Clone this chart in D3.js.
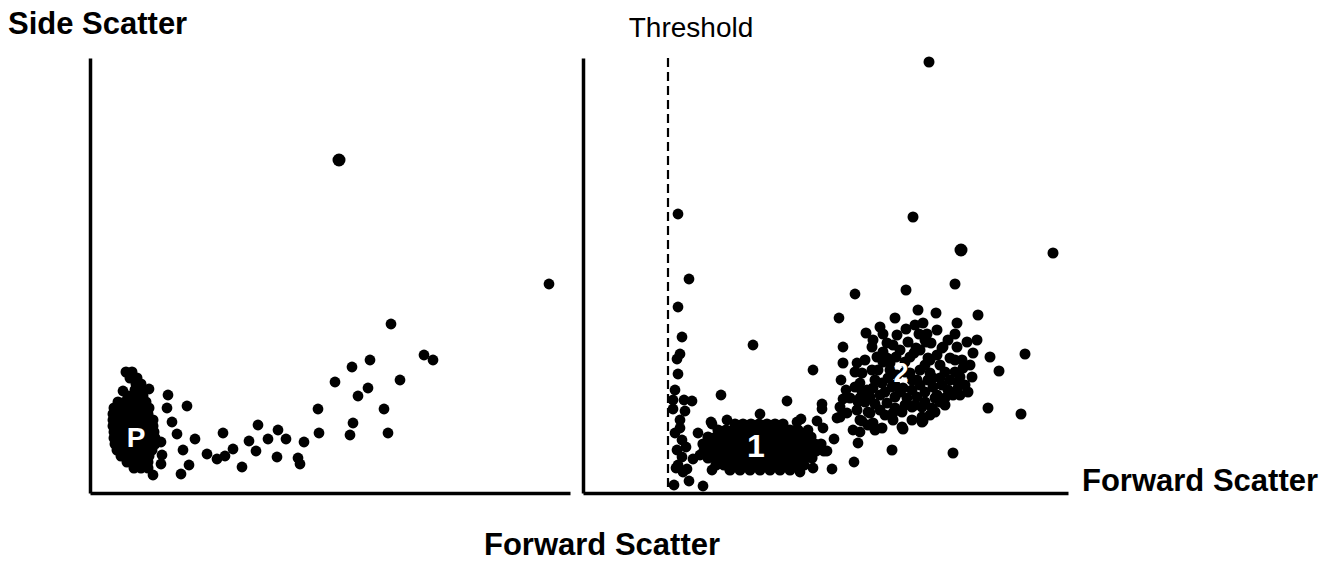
<!DOCTYPE html>
<html>
<head>
<meta charset="utf-8">
<script src="https://cdn.jsdelivr.net/npm/d3@7"></script>
<style>
  body { margin: 0; background: #fff; }
  svg { display: block; font-family: "Liberation Sans", Arial, sans-serif; }
</style>
</head>
<body>
<svg id="chart" width="1341" height="563"></svg>
<script>
// left panel: all events, [forward scatter, side scatter]
const leftBlobRows = [
  [121, [36, 42]], [115, [40, 47]], [109, [46, 51]], [103, [45, 52]],
  [97, [38, 46, 53]], [91, [28, 35, 42, 49, 56]], [85, [24, 31, 38, 45, 52, 59]],
  [79, [23, 30, 37, 44, 51, 58]], [73, [23, 30, 37, 44, 51, 58, 63]],
  [67, [23, 30, 37, 44, 51, 58, 63]], [61, [24, 31, 38, 45, 52, 59, 64]],
  [55, [24, 31, 38, 45, 52, 59, 65]], [49, [25, 32, 39, 46, 53, 60, 65]],
  [43, [27, 34, 41, 48, 55, 62]], [37, [31, 38, 45, 52, 59]],
  [31, [37, 44, 51, 58]], [25, [44, 51, 58]]
];
const leftScatter = [
  [33, 102], [59, 104], [63, 18], [71, 29], [72, 38], [71, 51], [78, 98], [77, 85],
  [82, 71], [87, 59], [97, 87], [93, 43], [99, 28], [91, 19], [105, 54], [117, 39],
  [127, 34], [135, 37], [133, 60], [143, 44], [152, 26], [159, 52], [166, 42],
  [168, 68], [178, 54], [188, 63], [187, 36], [196, 54], [208, 35], [210, 29],
  [214, 51], [229, 60], [228, 84], [245, 111], [260, 58], [263, 70], [268, 97],
  [278, 105], [262, 126], [280, 133], [294, 84], [298, 60], [310, 113], [301, 169],
  [334, 138], [343, 133], [459, 209]
];
const leftLarge = [[249, 333]];

// right panel: events after threshold
const pop1Rows = [
  [69, [152, 160, 168, 176, 184, 192, 200]],
  [63, [135, 143, 151, 159, 167, 175, 183, 191, 199, 207, 215]],
  [56, [125, 133, 141, 149, 157, 165, 173, 181, 189, 197, 205, 213, 221, 228]],
  [49, [120, 128, 136, 144, 152, 160, 168, 176, 184, 192, 200, 208, 216, 224, 232, 238]],
  [42, [121, 129, 137, 145, 153, 161, 169, 177, 185, 193, 201, 209, 217, 225, 233, 241]],
  [35, [125, 133, 141, 149, 157, 165, 173, 181, 189, 197, 205, 213, 221, 229]],
  [28, [133, 141, 149, 157, 165, 173, 181, 189, 197, 205, 213, 221]],
  [23, [147, 157, 167, 177, 187, 197, 207]]
];
const pop1Edge = [
  [129, 69], [144, 73], [214, 71], [225, 63], [117, 38], [129, 23], [217, 21]
];
const thresholdEvents = [
  [95, 279], [106, 214], [95, 186], [99, 156], [97, 139], [94, 134], [95, 119],
  [92, 103], [90, 93], [101, 93], [109, 92], [90, 84], [102, 82], [97, 73], [97, 65],
  [92, 60], [99, 53], [103, 46], [94, 43], [99, 36], [95, 28], [93, 25], [100, 21],
  [91, 8], [106, 12], [104, 24], [110, 34], [120, 7], [115, 60], [128, 71], [138, 98]
];
const rightScatter = [
  [170, 148], [177, 79], [204, 92], [218, 74], [234, 72], [239, 89], [239, 84],
  [240, 65], [251, 54], [244, 42], [230, 25], [249, 24], [230, 123], [271, 31],
  [270, 63], [277, 61], [275, 50], [254, 75], [264, 80], [279, 72], [285, 81],
  [260, 94], [275, 91], [285, 94], [263, 103], [258, 113], [277, 110], [279, 101],
  [274, 130], [260, 146], [256, 175], [272, 199]
];
const pop2 = [
  [330, 276], [470, 240], [372, 209], [323, 203], [395, 178], [335, 183], [353, 180],
  [312, 175], [297, 166], [283, 160], [323, 164], [340, 170], [374, 170], [354, 163],
  [372, 159], [384, 151], [289, 146], [304, 150], [325, 151], [343, 151], [360, 146],
  [374, 146], [390, 140], [407, 136], [442, 139], [416, 122], [387, 128], [405, 85],
  [438, 79], [352, 81], [340, 72], [320, 64], [292, 63], [309, 43], [370, 40], [346, 431],
  [300, 159], [336, 159], [344, 159], [310, 148], [342, 153], [348, 150], [359, 145],
  [333, 145], [331, 140], [300, 141], [294, 136], [300, 131], [313, 136], [307, 130],
  [322, 131], [327, 136], [345, 135], [354, 138], [367, 135], [372, 133], [342, 128],
  [357, 128], [289, 123], [279, 120], [337, 123], [347, 120], [350, 115], [372, 121],
  [377, 116], [375, 110], [327, 120], [334, 113], [272, 106], [292, 113], [299, 110],
  [290, 105], [305, 115], [309, 106], [317, 101], [329, 103], [345, 113], [350, 106],
  [359, 108], [365, 103], [374, 103], [370, 98], [362, 95], [277, 95], [287, 96],
  [297, 98], [304, 90], [312, 96], [324, 95], [334, 96], [342, 91], [354, 98],
  [357, 91], [382, 108], [389, 116], [380, 125], [274, 83], [287, 80], [297, 83],
  [310, 80], [319, 81], [329, 86], [339, 86], [349, 85], [277, 73], [290, 70],
  [310, 73], [319, 66], [339, 71], [339, 76], [257, 86], [257, 76], [260, 130], [394, 153],
  [307, 123], [314, 118], [322, 121], [329, 113], [337, 108], [312, 108], [302, 101],
  [320, 105], [342, 101], [352, 95], [332, 88], [322, 88], [312, 85], [302, 78],
  [292, 89], [282, 91], [284, 103], [295, 123], [304, 135], [317, 143], [337, 143],
  [347, 133], [362, 121], [367, 113], [357, 115], [379, 133], [365, 153], [332, 168],
  [314, 158], [290, 153], [282, 133], [272, 121], [267, 95], [285, 68], [299, 65],
  [329, 73], [347, 78], [362, 88], [377, 98], [385, 101]
];
const rightLarge = [[378, 243]];
const thresholdFsc = 85;

const svg = d3.select("#chart");

const y = d3.scaleLinear().domain([0, 435]).range([493, 58]);
const xLeft = d3.scaleLinear().domain([0, 480]).range([90, 570]);
const xRight = d3.scaleLinear().domain([0, 485]).range([583, 1068]);

const rowsToPoints = rows => rows.flatMap(([ssc, fscs]) => fscs.map(f => [f, ssc]));

function drawPanel(x, sets) {
  const g = svg.append("g");

  g.append("g")
    .attr("transform", `translate(0,${y(0)})`)
    .call(d3.axisBottom(x).ticks(0).tickSizeOuter(0))
    .select(".domain").attr("stroke", "#000").attr("stroke-width", 3.5);
  g.append("g")
    .attr("transform", `translate(${x(0)},0)`)
    .call(d3.axisLeft(y).ticks(0).tickSizeOuter(0))
    .select(".domain").attr("stroke", "#000").attr("stroke-width", 3.5);

  sets.forEach(([pts, r]) => {
    g.append("g")
      .selectAll("circle")
      .data(pts)
      .enter()
      .append("circle")
      .attr("cx", d => x(d[0]))
      .attr("cy", d => y(d[1]))
      .attr("r", r)
      .attr("fill", "#000");
  });
  return g;
}

const left = drawPanel(xLeft, [
  [rowsToPoints(leftBlobRows), 5.5],
  [leftScatter, 5.4],
  [leftLarge, 6.5]
]);

const right = drawPanel(xRight, [
  [thresholdEvents, 5.4],
  [rowsToPoints(pop1Rows), 5.6],
  [pop1Edge, 5.4],
  [rightScatter, 5.4],
  [pop2, 5.5],
  [rightLarge, 6.5]
]);

// threshold line
right.append("line")
  .attr("x1", xRight(thresholdFsc)).attr("x2", xRight(thresholdFsc))
  .attr("y1", y(435)).attr("y2", y(0))
  .attr("stroke", "#000")
  .attr("stroke-width", 2.2)
  .attr("stroke-dasharray", "9,5");

// population labels
const labels = [
  { t: "P", x: xLeft(46), y: y(46), size: 28 },
  { t: "1", x: xRight(173), y: y(36), size: 32 },
  { t: "2", x: xRight(318), y: y(111), size: 27 }
];
svg.append("g")
  .selectAll("text")
  .data(labels)
  .enter()
  .append("text")
  .text(d => d.t)
  .attr("x", d => d.x)
  .attr("y", d => d.y)
  .attr("text-anchor", "middle")
  .attr("fill", "#fff")
  .attr("font-weight", "bold")
  .style("font-size", d => d.size + "px");

svg.append("text")
  .text("Side Scatter")
  .attr("x", 8).attr("y", 34)
  .attr("font-weight", "bold")
  .style("font-size", "31px");

svg.append("text")
  .text("Threshold")
  .attr("x", 691).attr("y", 37)
  .attr("text-anchor", "middle")
  .style("font-size", "28px");

svg.append("text")
  .text("Forward Scatter")
  .attr("x", 1082).attr("y", 491)
  .attr("font-weight", "bold")
  .style("font-size", "31px");

svg.append("text")
  .text("Forward Scatter")
  .attr("x", 484).attr("y", 555)
  .attr("font-weight", "bold")
  .style("font-size", "31px");
</script>
</body>
</html>
